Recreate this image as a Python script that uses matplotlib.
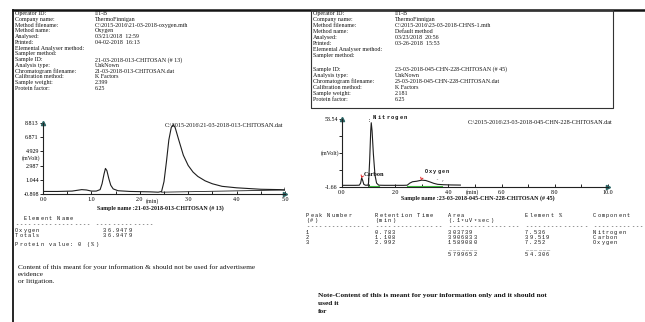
import matplotlib.pyplot as plt
from matplotlib.lines import Line2D

# ---- report header fields ----
header_labels = ['Operator ID:', 'Company name:', 'Method filename:', 'Method name:',
                 'Analysed:', 'Printed:', 'Elemental Analyser method:', 'Sampler method:',
                 'Sample ID:', 'Analysis type:', 'Chromatogram filename:',
                 'Calibration method:', 'Sample weight:', 'Protein factor:']
left_values = ['IIT-B', 'ThermoFinnigan', 'C:\\2015-2016\\21-03-2018-oxygen.mth', 'Oxygen',
               '03/21/2018  12:59', '04-02-2018  16:13', '', '',
               '21-03-2018-013-CHITOSAN (# 13)', 'UnkNown', '21-03-2018-013-CHITOSAN.dat',
               'K Factors', '2.399', '6.25']
right_values = ['IIT-B', 'ThermoFinnigan', 'C:\\2015-2016\\23-03-2018-CHNS-1.mth', 'Default method',
                '03/23/2018  20:56', '03-26-2018  15:53', '', '',
                '23-03-2018-045-CHN-228-CHITOSAN (# 45)', 'UnkNown',
                '23-03-2018-045-CHN-228-CHITOSAN.dat', 'K Factors', '2.181', '6.25']

# ---- oxygen run (minutes, mVolt) ----
oxy_t = [0.0, 0.3, 0.6, 0.7, 0.8, 0.9, 1.0, 1.1, 1.18, 1.22, 1.26, 1.29, 1.32, 1.36,
         1.40, 1.45, 1.55, 1.8, 2.2, 2.38, 2.45, 2.5, 2.55, 2.6, 2.65, 2.69, 2.73, 2.8,
         2.9, 3.0, 3.1, 3.2, 3.35, 3.5, 3.7, 4.0, 4.5, 4.9, 5.0, 5.0]
oxy_mv = [-0.55, -0.55, -0.5, -0.4, -0.3, -0.35, -0.5, -0.5, -0.3, 0.5, 1.8, 2.6, 2.3, 1.2,
          0.3, -0.2, -0.45, -0.55, -0.6, -0.65, -0.55, 0.8, 3.5, 6.5, 8.2, 8.6, 8.2, 6.6,
          4.4, 3.0, 2.1, 1.5, 0.9, 0.5, 0.15, -0.05, -0.25, -0.3, -0.35, -0.1]
oxy_base_t = [2.45, 5.0]
oxy_base_mv = [-0.65, -0.35]
oxy_yticks = [-0.898, 1.044, 2.987, 4.929, 6.871, 8.813]

# ---- CHN run (minutes, mVolt) ----
chn_t = [0.0, 0.5, 0.65, 0.7, 0.74, 0.78, 0.82, 0.88, 0.98, 1.0, 1.04, 1.08, 1.1, 1.13,
         1.18, 1.24, 1.3, 1.38, 1.6, 2.3, 2.45, 2.55, 2.65, 2.8, 3.0, 3.15, 3.3, 3.45,
         3.6, 3.8, 4.1, 4.45]
chn_mv = [-0.3, -0.3, -0.2, 1.5, 5.8, 3.5, 0.5, -0.2, -0.2, 2.0, 20.0, 44.0, 50.5, 44.0,
          25.0, 8.0, 1.5, -0.2, -0.3, -0.3, -0.2, 1.5, 2.6, 3.0, 3.9, 3.6, 2.5, 1.3,
          0.5, 0.2, 0.0, -0.1]
chn_green = [([1.02, 1.38], [-0.7, -0.7]), ([2.45, 3.75], [-0.7, -0.7])]
chn_yrange = [-1.66, 53.54]

# ---- result tables ----
peak_no = ['1', '2', '3']
ret_time = ['0.783', '1.108', '2.992']
areas = ['303739', '3906833', '1589080']
elem_pct = ['7.536', '39.519', '7.252']
components = ['Nitrogen', 'Carbon', 'Oxygen']
area_total = '5799652'
pct_total = '54.306'

W, H = 645, 322
serif = 'Liberation Serif'
mono = 'Liberation Mono'
ink = '#141414'

fig = plt.figure(figsize=(W / 100, H / 100), dpi=100)
page = fig.add_axes([0, 0, 1, 1])
page.set_xlim(0, W)
page.set_ylim(H, 0)
page.axis('off')


def rect(x):
    # pixel box (left, top, right, bottom) -> figure fraction
    l, t, r, b = x
    return [l / W, 1 - b / H, (r - l) / W, (b - t) / H]


def spaced(x, y, s, pitch=4.2, size=3.8, weight='normal', color=ink):
    # printer-style text: one glyph per fixed-width cell
    for i, ch in enumerate(s):
        if ch != ' ':
            page.text(x + i * pitch, y, ch, fontsize=size, family=mono, weight=weight,
                      color=color, va='center', ha='left')


# frame lines
page.add_line(Line2D([13, W], [10, 10], color=ink, lw=1.8))
page.add_line(Line2D([13, 13], [10, H], color=ink, lw=1.3))
page.add_line(Line2D([311, 613, 613, 311, 311], [10, 10, 108, 108, 10], color='#333333', lw=0.8))

# header blocks
left_rows = [13.5 + i * 5.77 for i in range(14)]
right_rows = [13 + i * 6.0 for i in range(8)] + [69 + i * 6.0 for i in range(6)]
for lab, val, y in zip(header_labels, left_values, left_rows):
    page.text(15, y, lab, fontsize=4.3, family=serif, color=ink, va='center')
    page.text(95, y, val, fontsize=4.3, family=serif, color=ink, va='center')
for lab, val, y in zip(header_labels, right_values, right_rows):
    page.text(313, y, lab, fontsize=4.3, family=serif, color=ink, va='center')
    page.text(395, y, val, fontsize=4.3, family=serif, color=ink, va='center')


def style_axes(ax):
    for s in ['top', 'right']:
        ax.spines[s].set_visible(False)
    for s in ['left', 'bottom']:
        ax.spines[s].set_linewidth(0.8)
        ax.spines[s].set_color('#222222')
    ax.tick_params(axis='x', which='both', direction='in', length=2.5, width=0.6,
                   labelsize=4.3, pad=2)
    ax.tick_params(axis='y', which='both', direction='out', length=2, width=0.6,
                   labelsize=4.3, pad=1)
    for lbl in ax.get_xticklabels() + ax.get_yticklabels():
        lbl.set_family(serif)
    ax.plot(1, 0, '>', transform=ax.transAxes, clip_on=False, ms=3, color='#2a6464')
    ax.plot(0, 1, '^', transform=ax.transAxes, clip_on=False, ms=3, color='#2a6464')
    ax.patch.set_alpha(0)


# oxygen chromatogram
ax1 = fig.add_axes(rect((43, 123, 285, 194)))
ax1.plot(oxy_t, oxy_mv, color='#1e1e1e', lw=0.8)
ax1.plot(oxy_base_t, oxy_base_mv, color='#1e1e1e', lw=0.6)
ax1.set_xlim(0, 5)
ax1.set_ylim(oxy_yticks[0], oxy_yticks[-1])
ax1.set_xticks([0, 1, 2, 3, 4, 5])
ax1.set_xticklabels(['0.0', '1.0', '2.0', '3.0', '4.0', '5.0'])
ax1.set_xticks([0.5, 1.5, 2.5, 3.5, 4.5], minor=True)
ax1.set_yticks(oxy_yticks)
ax1.set_yticklabels(['%.3f' % v for v in oxy_yticks])
style_axes(ax1)
page.text(31, 158, '(mVolt)', fontsize=4.3, family=serif, color=ink, ha='center', va='center')
page.text(152, 201.5, '(min)', fontsize=4.3, family=serif, color=ink, ha='center', va='center')
page.text(283, 125, 'C:\\2015-2016\\21-03-2018-013-CHITOSAN.dat', fontsize=4.4,
          family=serif, color=ink, ha='right', va='center')
page.text(160, 208, 'Sample name :21-03-2018-013-CHITOSAN (# 13)', fontsize=4.3,
          family=serif, weight='bold', color=ink, ha='center', va='center')

# CHN chromatogram
ax2 = fig.add_axes(rect((342, 119, 608, 187)))
ax2.plot(chn_t, chn_mv, color='#1e1e1e', lw=0.8)
ax2.plot([0.98, 0.98], [-1.0, 6.0], color='#1e1e1e', lw=0.6)
for gx, gy in chn_green:
    ax2.plot(gx, gy, color='#3fbf3f', lw=0.8)
ax2.plot([0.72, 0.74, 0.8], [8.0, 6.2, 7.2], color='#e02020', lw=0.7)
ax2.plot([2.96, 2.98, 3.04], [6.2, 4.4, 5.4], color='#e02020', lw=0.7)
ax2.text(0.98, 52.5, ':', fontsize=4, family=mono, color=ink, va='center')
ax2.text(0.82, 8.5, 'Carbon', fontsize=4.5, family=serif, weight='bold', color=ink, va='center')
ax2.text(3.55, 4.2, '- ,', fontsize=3.5, family=mono, color='#555555', va='center')
ax2.set_xlim(0, 10)
ax2.set_ylim(*chn_yrange)
ax2.set_xticks([0, 2, 4, 6, 8, 10])
ax2.set_xticklabels(['0.0', '2.0', '4.0', '6.0', '8.0', '10.0'])
ax2.set_xticks([1, 3, 5, 7, 9], minor=True)
ax2.set_yticks(chn_yrange)
ax2.set_yticklabels(['%.2f' % v for v in chn_yrange])
ax2.set_yticks([chn_yrange[0] + k * (chn_yrange[1] - chn_yrange[0]) / 4 for k in (1, 2, 3)],
               minor=True)
style_axes(ax2)
spaced(373, 117, 'Nitrogen', pitch=4.4, size=4.0, weight='bold')
spaced(425, 171, 'Oxygen', pitch=4.2, size=3.8, weight='bold')
page.text(330, 153, '(mVolt)', fontsize=4.3, family=serif, color=ink, ha='center', va='center')
page.text(472, 192, '(min)', fontsize=4.3, family=serif, color=ink, ha='center', va='center')
page.text(613, 122, 'C:\\2015-2016\\23-03-2018-045-CHN-228-CHITOSAN.dat', fontsize=4.4,
          family=serif, color=ink, ha='right', va='center')
page.text(478, 198.5, 'Sample name :23-03-2018-045-CHN-228-CHITOSAN (# 45)', fontsize=4.3,
          family=serif, weight='bold', color=ink, ha='center', va='center')

# oxygen result block
spaced(15, 218, '  Element Name')
spaced(15, 224.5, '-' * 18)
spaced(95, 224.5, '-' * 14)
spaced(15, 230, 'Oxygen')
spaced(103, 230, '36.9479')
spaced(15, 235.5, 'Totals')
spaced(103, 235.5, '36.9479')
spaced(15, 244, 'Protein value: 0 (%)')
rm = dict(fontsize=5.2, family=serif, color=ink, va='center')
page.text(18, 267, 'Content of this meant for your information & should not be used for advertiseme', **rm)
page.text(18, 274.5, 'evidence', **rm)
page.text(18, 282, 'or litigation.', **rm)

# CHN result table
cols = [306, 375, 448, 525, 593]
dash_len = [15, 16, 17, 15, 12]
spaced(cols[0], 215, 'Peak Number')
spaced(cols[1], 215, 'Retention Time')
spaced(cols[2], 215, 'Area')
spaced(cols[3], 215, 'Element %')
spaced(cols[4], 215, 'Component')
spaced(cols[0], 220.5, '(#)')
spaced(cols[1], 220.5, '(min)')
spaced(cols[2], 220.5, '(.1*uV*sec)')
for c, n in zip(cols, dash_len):
    spaced(c, 226.5, '-' * n)
for i in range(3):
    y = 232 + i * 5.3
    spaced(cols[0], y, peak_no[i])
    spaced(cols[1], y, ret_time[i])
    spaced(cols[2], y, areas[i])
    spaced(cols[3], y, elem_pct[i])
    spaced(cols[4], y, components[i])
spaced(cols[2], 249, '_' * 7)
spaced(cols[3], 249, '_' * 6)
spaced(cols[2], 254.5, area_total)
spaced(cols[3], 254.5, pct_total)
nb = dict(fontsize=5.3, family=serif, weight='bold', color=ink, va='center')
page.text(318, 295.5, 'Note-Content of this is meant for your information only and it should not', **nb)
page.text(318, 303.5, 'used it', **nb)
page.text(318, 311.5, 'for', **nb)

fig.savefig('out.png', dpi=100)
